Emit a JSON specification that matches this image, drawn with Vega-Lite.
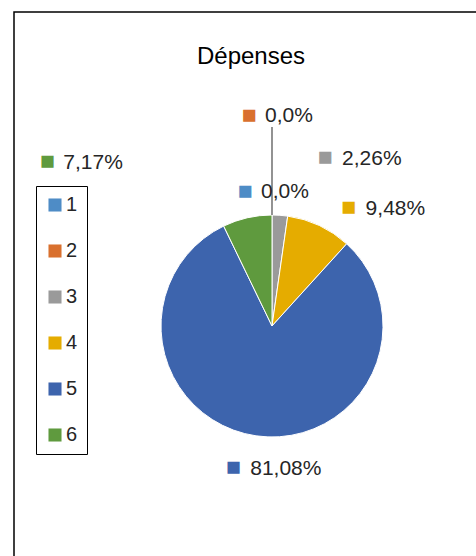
{
  "$schema": "https://vega.github.io/schema/vega-lite/v6.json",
  "autosize": {"type": "none"},
  "padding": {"left": 14, "top": 12, "right": 0, "bottom": 0},
  "width": 516,
  "height": 628,
  "background": "#ffffff",
  "config": {
    "style": {"view": {"stroke": "#000000", "strokeWidth": 1.5}},
    "font": "Liberation Sans"
  },
  "title": {
    "text": "Dépenses",
    "font": "Liberation Sans",
    "fontSize": 24,
    "fontWeight": "normal",
    "color": "#000000",
    "anchor": "middle",
    "frame": "group",
    "dx": -21,
    "dy": 23,
    "baseline": "alphabetic",
    "offset": -53
  },
  "data": {
    "values": [
      {"cat": "1", "value": 0.0, "label": "0,0%"},
      {"cat": "2", "value": 0.0, "label": "0,0%"},
      {"cat": "3", "value": 2.26, "label": "2,26%"},
      {"cat": "4", "value": 9.48, "label": "9,48%"},
      {"cat": "5", "value": 81.08, "label": "81,08%"},
      {"cat": "6", "value": 7.17, "label": "7,17%"}
    ]
  },
  "encoding": {
    "theta": {"field": "value", "type": "quantitative", "stack": true},
    "order": {"field": "cat", "type": "ordinal", "sort": "ascending"},
    "color": {
      "field": "cat",
      "type": "nominal",
      "scale": {
        "domain": ["1", "2", "3", "4", "5", "6"],
        "range": ["#4E8CC6", "#D9702E", "#9A9A9A", "#E5AC00", "#3D64AD", "#5F9A3E"]
      },
      "legend": {
        "title": null,
        "orient": "none",
        "legendX": 22,
        "legendY": 174,
        "strokeColor": "#000000",
        "padding": 9,
        "rowPadding": 26,
        "symbolType": "square",
        "symbolSize": 170,
        "symbolStrokeWidth": 0,
        "labelFont": "Liberation Sans",
        "labelFontSize": 20,
        "labelColor": "#262626",
        "labelOffset": 1,
        "fillColor": "#ffffff"
      }
    }
  },
  "layer": [
    {
      "mark": {"type": "arc", "outerRadius": 111, "stroke": "#ffffff", "strokeWidth": 1}
    },
    {
      "mark": {"type": "arc", "radius": 199, "radius2": 111, "fillOpacity": 0, "stroke": "#595959", "strokeWidth": 1.3},
      "encoding": {
        "strokeOpacity": {"condition": {"test": "datum.cat === '2'", "value": 1}, "value": 0},
        "color": {"value": "#595959"}
      }
    },
    {
      "mark": {"type": "text", "radius": 210, "dx": -23, "dy": -1, "align": "center", "baseline": "middle", "fontSize": 25, "text": "■"},
      "encoding": {"opacity": {"condition": {"test": "datum.cat === '2'", "value": 1}, "value": 0}}
    },
    {
      "mark": {"type": "text", "radius": 210, "dx": -7, "dy": 0, "align": "left", "baseline": "middle", "fontSize": 21},
      "encoding": {"text": {"field": "label"}, "color": {"value": "#262626"}, "opacity": {"condition": {"test": "datum.cat === '2'", "value": 1}, "value": 0}}
    },
    {
      "mark": {"type": "text", "radius": 134, "dx": -27, "dy": -1, "align": "center", "baseline": "middle", "fontSize": 25, "text": "■"},
      "encoding": {"opacity": {"condition": {"test": "datum.cat === '1'", "value": 1}, "value": 0}}
    },
    {
      "mark": {"type": "text", "radius": 134, "dx": -11, "dy": 0, "align": "left", "baseline": "middle", "fontSize": 21},
      "encoding": {"text": {"field": "label"}, "color": {"value": "#262626"}, "opacity": {"condition": {"test": "datum.cat === '1'", "value": 1}, "value": 0}}
    },
    {
      "mark": {"type": "text", "radius": 170, "dx": 41, "dy": 1, "align": "center", "baseline": "middle", "fontSize": 25, "text": "■"},
      "encoding": {"opacity": {"condition": {"test": "datum.cat === '3'", "value": 1}, "value": 0}}
    },
    {
      "mark": {"type": "text", "radius": 170, "dx": 58, "dy": 3, "align": "left", "baseline": "middle", "fontSize": 21},
      "encoding": {"text": {"field": "label"}, "color": {"value": "#262626"}, "opacity": {"condition": {"test": "datum.cat === '3'", "value": 1}, "value": 0}}
    },
    {
      "mark": {"type": "text", "radius": 140, "dx": 17, "dy": 8, "align": "center", "baseline": "middle", "fontSize": 25, "text": "■"},
      "encoding": {"opacity": {"condition": {"test": "datum.cat === '4'", "value": 1}, "value": 0}}
    },
    {
      "mark": {"type": "text", "radius": 140, "dx": 34, "dy": 10, "align": "left", "baseline": "middle", "fontSize": 21},
      "encoding": {"text": {"field": "label"}, "color": {"value": "#262626"}, "opacity": {"condition": {"test": "datum.cat === '4'", "value": 1}, "value": 0}}
    },
    {
      "mark": {"type": "text", "radius": 145, "dx": -18, "dy": -3, "align": "center", "baseline": "middle", "fontSize": 25, "text": "■"},
      "encoding": {"opacity": {"condition": {"test": "datum.cat === '5'", "value": 1}, "value": 0}}
    },
    {
      "mark": {"type": "text", "radius": 145, "dx": -1, "dy": -1, "align": "left", "baseline": "middle", "fontSize": 21},
      "encoding": {"text": {"field": "label"}, "color": {"value": "#262626"}, "opacity": {"condition": {"test": "datum.cat === '5'", "value": 1}, "value": 0}}
    },
    {
      "mark": {"type": "text", "radius": 200, "dx": -180, "dy": 30, "align": "center", "baseline": "middle", "fontSize": 25, "text": "■"},
      "encoding": {"opacity": {"condition": {"test": "datum.cat === '6'", "value": 1}, "value": 0}}
    },
    {
      "mark": {"type": "text", "radius": 200, "dx": -164, "dy": 32, "align": "left", "baseline": "middle", "fontSize": 21},
      "encoding": {"text": {"field": "label"}, "color": {"value": "#262626"}, "opacity": {"condition": {"test": "datum.cat === '6'", "value": 1}, "value": 0}}
    }
  ]
}
